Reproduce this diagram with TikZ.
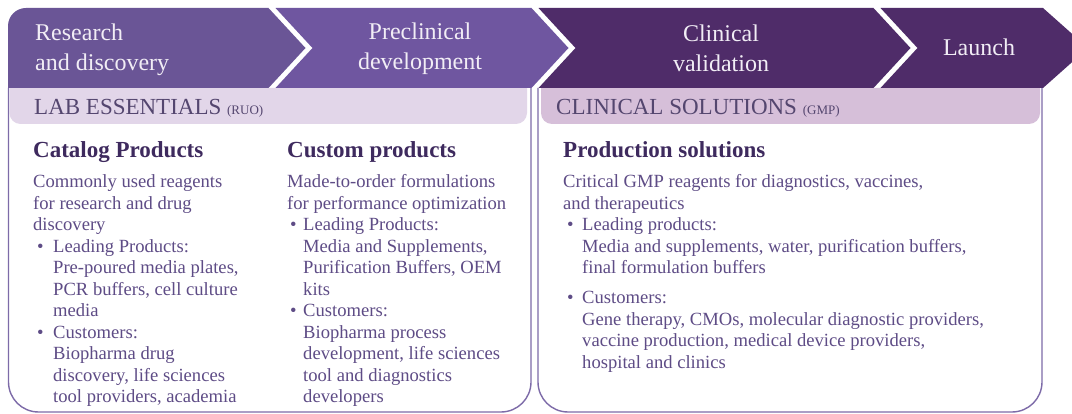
\documentclass[tikz,border=0pt]{standalone}
\usepackage{fontspec}
\setmainfont{Liberation Serif}
\definecolor{segA}{HTML}{6A5596}
\definecolor{segB}{HTML}{6F56A0}
\definecolor{segC}{HTML}{4F2C69}
\definecolor{bandA}{HTML}{E2D6E9}
\definecolor{bandB}{HTML}{D6BFD9}
\definecolor{boxln}{HTML}{7D6BA8}
\definecolor{bandfg}{HTML}{54466F}
\definecolor{headfg}{HTML}{3E2A5E}
\definecolor{bodyfg}{HTML}{5E4C86}
\definecolor{bannerfg}{HTML}{F1EDF5}
\newcommand{\bulA}{\hspace*{4pt}\makebox[16pt][l]{\textbullet}}
\newcommand{\indA}{\hspace*{20pt}}
\newcommand{\bulB}{\hspace*{3pt}\makebox[13pt][l]{\textbullet}}
\newcommand{\indB}{\hspace*{16pt}}
\newcommand{\bulC}{\hspace*{4pt}\makebox[15pt][l]{\textbullet}}
\newcommand{\indC}{\hspace*{19pt}}
\tikzset{
  bannertext/.style={text=bannerfg, font=\fontsize{24}{29.5}\selectfont, inner sep=0pt},
  bandtext/.style={text=bandfg, font=\fontsize{23}{27}\selectfont, inner sep=0pt, anchor=base west},
  headtext/.style={text=headfg, font=\bfseries\fontsize{23}{27}\selectfont, inner sep=0pt, anchor=base west},
  bodytext/.style={text=bodyfg, font=\fontsize{18.6}{21.5}\selectfont, inner sep=0pt, anchor=base west},
  boxline/.style={draw=boxln, line width=1.4pt, rounded corners=30pt},
}
\begin{document}
\begin{tikzpicture}[x=1pt,y=-1pt]
\useasboundingbox (0,0) rectangle (1072,414);
\fill[white] (0,0) rectangle (1072,414);

% bands
\fill[bandA, rounded corners=11pt] (9.5,88) -- (9.5,124) -- (527,124) -- (527,88);
\fill[bandB, rounded corners=11pt] (541,88) -- (541,124) -- (1040,124) -- (1040,88);

% boxes
\draw[boxline] (8.5,88) -- (8.5,412) -- (531,412) -- (531,88);
\draw[boxline] (538,88) -- (538,412) -- (1042,412) -- (1042,88);

% banner segments
\fill[segA] (8,88) -- (8,26) arc[start angle=180, end angle=90, radius=18pt] -- (268.5,8) -- (305.5,48) -- (268.5,88) -- cycle;
\fill[segB] (275.5,8) -- (531.5,8) -- (568.5,48) -- (531.5,88) -- (275.5,88) -- (312.5,48) -- cycle;
\fill[segC] (538.5,8) -- (873.5,8) -- (910.5,48) -- (873.5,88) -- (538.5,88) -- (575.5,48) -- cycle;
\fill[segC] (880.5,8) -- (1043,8) -- (1088,48) -- (1043,88) -- (880.5,88) -- (917.5,48) -- cycle;

% banner texts
\node[bannertext, anchor=base west] (research) at (35,41)
  {\begin{tabular}[t]{@{}l@{}}Research\\and discovery\end{tabular}};
\node[bannertext, anchor=base] (preclin) at (420,40)
  {\begin{tabular}[t]{@{}c@{}}Preclinical\\development\end{tabular}};
\node[bannertext, anchor=base] (clinval) at (721,42)
  {\begin{tabular}[t]{@{}c@{}}Clinical\\validation\end{tabular}};
\node[bannertext, anchor=base] (launch) at (979,56) {Launch};

% band texts
\node[bandtext] (labess) at (34,115) {LAB ESSENTIALS {\fontsize{13}{15}\selectfont (RUO)}};
\node[bandtext] (clinsol) at (556,115) {CLINICAL SOLUTIONS {\fontsize{13}{15}\selectfont (GMP)}};

% headings
\node[headtext] (cathead) at (33,158) {Catalog Products};
\node[headtext] (custhead) at (287,158) {Custom products};
\node[headtext] (prodhead) at (563,158) {Production solutions};

% body texts
\node[bodytext] (catbody) at (33,188) {\begin{tabular}[t]{@{}l@{}}
Commonly used reagents\\
for research and drug\\
discovery\\
\bulA Leading Products:\\
\indA Pre-poured media plates,\\
\indA PCR buffers, cell culture\\
\indA media\\
\bulA Customers:\\
\indA Biopharma drug\\
\indA discovery, life sciences\\
\indA tool providers, academia
\end{tabular}};

\node[bodytext] (custbody) at (287,188) {\begin{tabular}[t]{@{}l@{}}
Made-to-order formulations\\
for performance optimization\\
\bulB Leading Products:\\
\indB Media and Supplements,\\
\indB Purification Buffers, OEM\\
\indB kits\\
\bulB Customers:\\
\indB Biopharma process\\
\indB development, life sciences\\
\indB tool and diagnostics\\
\indB developers
\end{tabular}};

\node[bodytext] (prodbody) at (563,188) {\begin{tabular}[t]{@{}l@{}}
Critical GMP reagents for diagnostics, vaccines,\\
and therapeutics\\
\bulC Leading products:\\
\indC Media and supplements, water, purification buffers,\\
\indC final formulation buffers\\[8.5pt]
\bulC Customers:\\
\indC Gene therapy, CMOs, molecular diagnostic providers,\\
\indC vaccine production, medical device providers,\\
\indC hospital and clinics
\end{tabular}};
\end{tikzpicture}
\end{document}
